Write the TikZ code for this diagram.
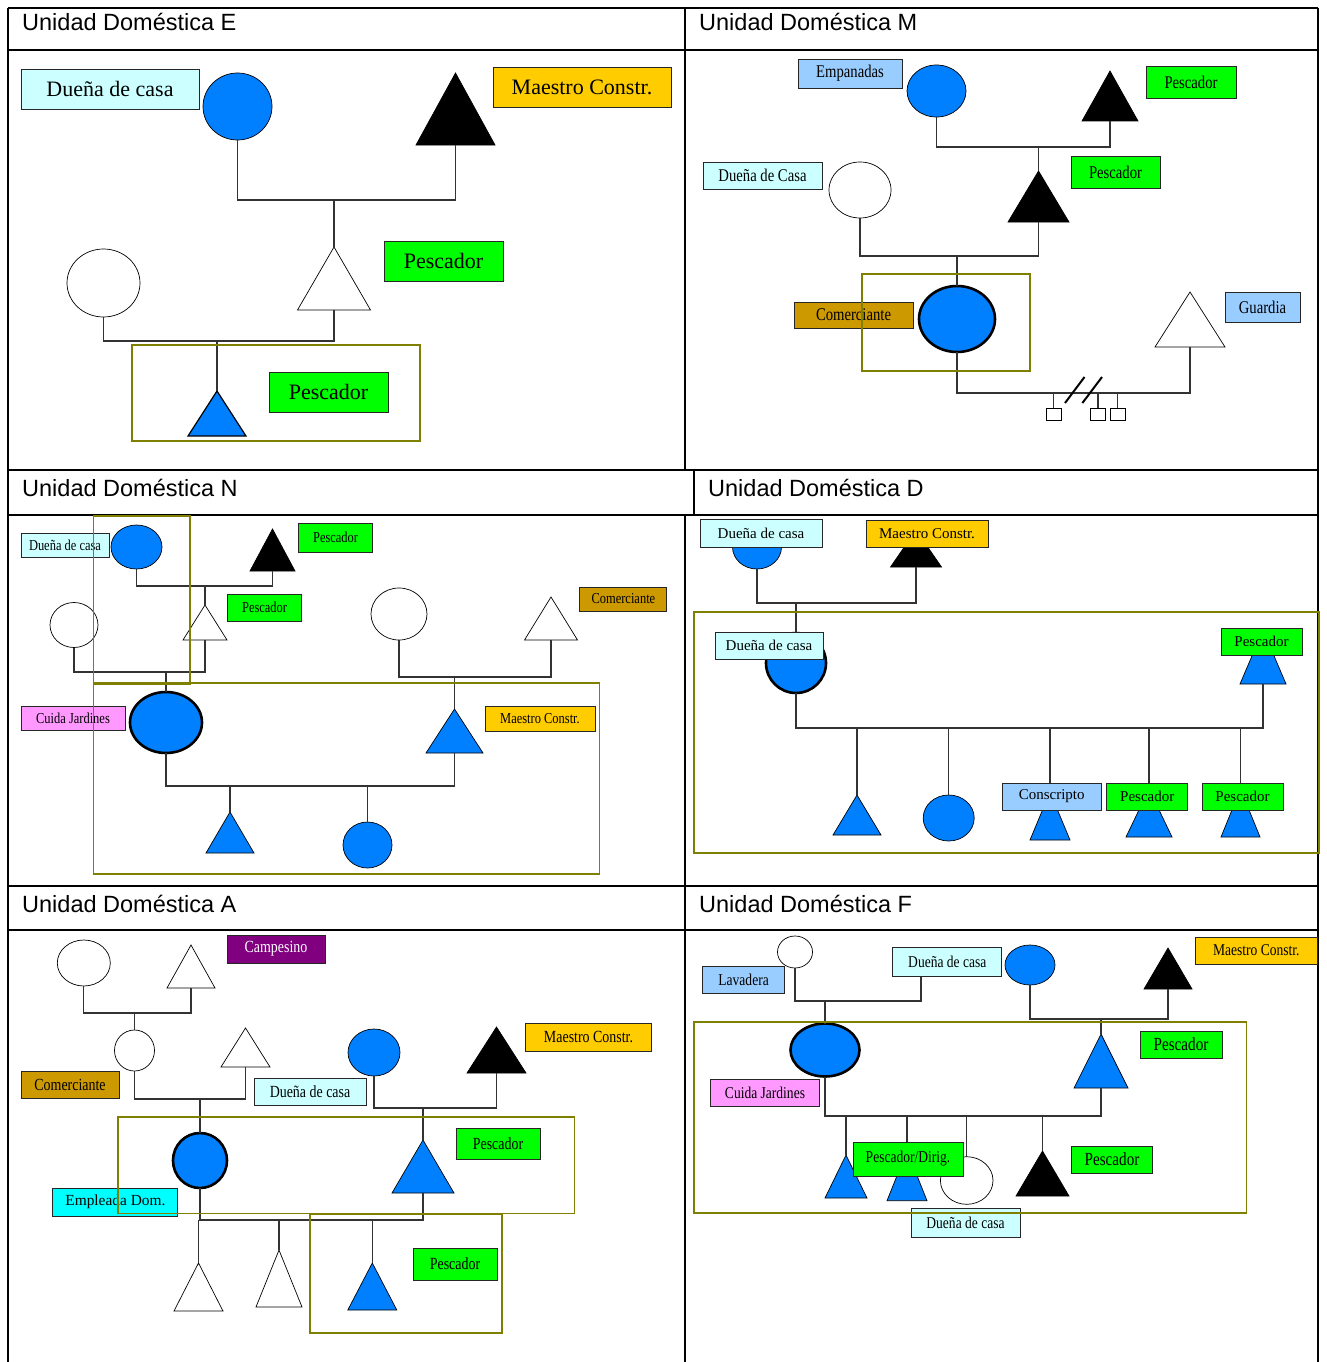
\documentclass[tikz,border=0pt]{standalone}
\usepackage{fontspec}
\setmainfont{Liberation Serif}
\newfontfamily\ttlfont{Liberation Sans}
\newfontfamily\narrowfont[FakeStretch=0.82]{Liberation Serif}
\usetikzlibrary{shapes.geometric, positioning}
\definecolor{cBlue}{RGB}{0,128,255}
\definecolor{cDuena}{RGB}{204,255,255}
\definecolor{cMaestro}{RGB}{255,204,0}
\definecolor{cPesca}{RGB}{0,255,0}
\definecolor{cCeleste}{RGB}{153,204,255}
\definecolor{cComer}{RGB}{204,153,0}
\definecolor{cJardin}{RGB}{255,153,255}
\definecolor{cCampo}{RGB}{128,0,128}
\definecolor{cEmpleada}{RGB}{0,255,255}
\definecolor{cGrupo}{RGB}{128,128,0}
\tikzset{
  lbl/.style={rectangle, draw=black!85, line width=0.9pt, inner sep=0pt, fill=#1},
  sz/.style 2 args={minimum width=#1, minimum height=#2},
  fem/.style={ellipse, draw=black, line width=0.7pt, inner sep=0pt, outer sep=0pt, fill=#1},
  masc/.style={isosceles triangle, isosceles triangle stretches, shape border rotate=90, anchor=lower side, draw=black, line width=0.7pt, inner sep=0pt, outer sep=0pt, fill=#1},
  ego/.style={line width=2.6pt},
  lin/.style={draw=black!80, line width=1.3pt},
  grp/.style={draw=cGrupo, line width=1.6pt},
  kid/.style={rectangle, draw=black, line width=0.8pt, fill=white, inner sep=0pt, minimum width=15, minimum height=12},
  tbl/.style={draw=black, line width=2pt},
  ttl/.style={font=\ttlfont\fontsize{23.5}{26}\selectfont, inner sep=0pt, anchor=base west}
}
\begin{document}
\begin{tikzpicture}[x=1pt, y=-1pt]
    \useasboundingbox (0,0) rectangle (1327,1362);
    \fill[white] (0,0) rectangle (1327,1362);

    % Table frame
    \foreach \y in {8,50,470,515,886,930}
        \draw[tbl] (8,\y) -- (1318,\y);
    \draw[tbl] (8,8) -- (8,1362);
    \draw[tbl] (1318,8) -- (1318,1362);
    \draw[tbl] (685,8) -- (685,470);
    \draw[tbl] (694,470) -- (694,515);
    \draw[tbl] (685,515) -- (685,1362);

    % Titles
    \node[ttl] (tE) at (22,31) {Unidad Doméstica E};
    \node[ttl] (tM) at (699,31) {Unidad Doméstica M};
    \node[ttl] (tN) at (22,496) {Unidad Doméstica N};
    \node[ttl] (tD) at (708,496) {Unidad Doméstica D};
    \node[ttl] (tA) at (22,912) {Unidad Doméstica A};
    \node[ttl] (tF) at (699,912) {Unidad Doméstica F};

    % ---------------- Unidad E ----------------
    \begin{scope}[font=\fontsize{22}{24}\selectfont]
        \node[fem=cBlue, sz={69}{67}] (eW1) at (237.5,106.5) {};
        \node[masc=black, sz={79}{72}] (eH1) at (455.5,145) {};
        \node[masc=white, sz={73}{63}] (eS1) at (334,310) {};
        \node[fem=white, sz={73}{68}] (eW2) at (103.5,283) {};
        \node[masc=cBlue, sz={58}{45}, line width=1.2pt] (eC1) at (217,436) {};
        \coordinate (eJ1) at (334,200);
        \coordinate (eJ2) at (217,341);
        \draw[lin] (eW1.south) |- (eJ1) -| (eH1.lower side);
        \draw[lin] (eJ1) -- (eS1.apex);
        \draw[lin] (eW2.south) |- (eJ2) -| (eS1.lower side);
        \draw[lin] (eJ2) -- (eC1.apex);
        \node[lbl=cDuena, sz={178}{40}] (eL1) at (110,89) {Dueña de casa};
        \node[lbl=cMaestro, sz={178}{40}] (eL2) at (582,87) {Maestro Constr.};
        \node[lbl=cPesca, sz={119}{40}] (eL3) at (443.5,261) {Pescador};
        \node[lbl=cPesca, sz={119}{40}] (eL4) at (328.5,392) {Pescador};
        \draw[grp] (132,345) rectangle (420,441);
    \end{scope}

    % ---------------- Unidad M ----------------
    \begin{scope}[font=\narrowfont\fontsize{17.9}{19}\selectfont]
        \node[fem=cBlue, sz={59}{52}] (mW1) at (936.5,91) {};
        \node[masc=black, sz={56}{50}] (mH1) at (1110,121) {};
        \node[masc=black, sz={61}{51}] (mS1) at (1038.5,222) {};
        \node[fem=white, sz={62}{56}] (mW2) at (860,190) {};
        \node[fem=cBlue, ego, sz={76}{66}] (mE1) at (957,319) {};
        \node[masc=white, sz={70}{55}] (mH2) at (1190,347) {};
        \node[kid] (mK1) at (1053.5,414) {};
        \node[kid] (mK2) at (1098,414) {};
        \node[kid] (mK3) at (1117.5,414) {};
        \coordinate (mJ1) at (1038.5,147);
        \coordinate (mJ2) at (957,256);
        \coordinate (mJ3) at (957,393);
        \draw[lin] (mW1.south) |- (mJ1) -| (mH1.lower side);
        \draw[lin] (mJ1) -- (mS1.apex);
        \draw[lin] (mW2.south) |- (mJ2) -| (mS1.lower side);
        \draw[lin] (mJ2) -- (mE1.north);
        \draw[lin] (mE1.south) -- (mJ3) -| (mH2.lower side);
        \foreach \k in {mK1,mK2,mK3}
            \draw[lin] (\k.north) -- (\k.north |- mJ3);
        % separation marks
        \draw[line width=2pt] (1065,403) -- (1084.5,377) (1082.4,403) -- (1102,377);
        \node[lbl=cCeleste, sz={104}{29}] (mL1) at (850,73.5) {Empanadas};
        \node[lbl=cPesca, sz={90}{32}] (mL2) at (1191,82) {Pescador};
        \node[lbl=cPesca, sz={89}{32}] (mL3) at (1115.5,172) {Pescador};
        \node[lbl=cDuena, sz={119}{27}] (mL4) at (762.5,175.5) {Dueña de Casa};
        \node[lbl=cComer, sz={119}{26}] (mL5) at (853.5,315) {Comerciante};
        \node[lbl=cCeleste, sz={75}{30}] (mL6) at (1262.5,307) {Guardia};
        \draw[grp] (862,274) rectangle (1030,371);
    \end{scope}

    % ---------------- Unidad N ----------------
    \begin{scope}[font=\narrowfont\fontsize{15.2}{17}\selectfont]
        \node[fem=cBlue, sz={51}{44}] (nW1) at (136.5,547) {};
        \node[masc=black, sz={45}{42}] (nH1) at (272.5,571) {};
        \node[masc=white, sz={44}{35}] (nS1) at (205,640) {};
        \node[fem=white, sz={48}{45}] (nW2) at (74,625) {};
        \node[fem=cBlue, ego, sz={72}{61}] (nE1) at (166,722.5) {};
        \node[fem=white, sz={56}{52}] (nW3) at (399,614) {};
        \node[masc=white, sz={53}{43}] (nH2) at (551,640) {};
        \node[masc=cBlue, sz={57}{44}] (nS2) at (454.5,753) {};
        \node[masc=cBlue, sz={48}{41}] (nC1) at (230,853) {};
        \node[fem=cBlue, sz={49}{46}] (nC2) at (367.5,845) {};
        \coordinate (nJ1) at (205,586);
        \coordinate (nJ2) at (166,672);
        \coordinate (nJ3) at (454.5,677);
        \coordinate (nJ4) at (300,786);
        \draw[lin] (nW1.south) |- (nJ1) -| (nH1.lower side);
        \draw[lin] (nJ1) -- (nS1.apex);
        \draw[lin] (nW2.south) |- (nJ2) -| (nS1.lower side);
        \draw[lin] (nJ2) -- (nE1.north);
        \draw[lin] (nW3.south) |- (nJ3) -| (nH2.lower side);
        \draw[lin] (nJ3) -- (nS2.apex);
        \draw[lin] (nE1.south) |- (nJ4) -| (nS2.lower side);
        \foreach \k/\a in {nC1/apex, nC2/north}
            \draw[lin] (\k.\a) -- (\k.\a |- nJ4);
        \node[lbl=cDuena, sz={88}{24}] (nL1) at (65,545) {Dueña de casa};
        \node[lbl=cPesca, sz={74}{29}] (nL2) at (335.6,537.5) {Pescador};
        \node[lbl=cPesca, sz={74}{27}] (nL3) at (264.6,607.5) {Pescador};
        \node[lbl=cComer, sz={87}{24}] (nL4) at (623.4,599) {Comerciante};
        \node[lbl=cMaestro, sz={110}{25}] (nL5) at (540,718.5) {Maestro Constr.};
        \node[lbl=cJardin, sz={104}{24}] (nL6) at (73,718) {Cuida Jardines};
        \draw[grp] (93.5,516) rectangle (190,684);
        \draw[grp] (93.5,683) rectangle (599.4,874);
    \end{scope}

    % ---------------- Unidad D ----------------
    \begin{scope}[font=\fontsize{15}{17}\selectfont]
        \node[fem=cBlue, sz={49}{44}] (dW1) at (757,547) {};
        \node[masc=black, sz={51}{37}] (dH1) at (916,567) {};
        \node[fem=cBlue, ego, sz={60}{60}] (dE1) at (796,663) {};
        \node[masc=cBlue, sz={46}{54}] (dS1) at (1263,684) {};
        \node[masc=cBlue, sz={48}{40}] (dC1) at (857,835) {};
        \node[fem=cBlue, sz={51}{46}] (dC2) at (948.7,818) {};
        \node[masc=cBlue, sz={40}{48}] (dC3) at (1050,840) {};
        \node[masc=cBlue, sz={46}{48}] (dC4) at (1149,837) {};
        \node[masc=cBlue, sz={39}{48}] (dC5) at (1240.5,837) {};
        \coordinate (dJ1) at (796,603);
        \coordinate (dJ2) at (1000,728);
        \draw[lin] (dW1.south) |- (dJ1) -| (dH1.lower side);
        \draw[lin] (dJ1) -- (dE1.north);
        \draw[lin] (dE1.south) |- (dJ2) -| (dS1.lower side);
        \foreach \k/\a in {dC1/apex, dC2/north, dC3/apex, dC4/apex, dC5/apex}
            \draw[lin] (\k.\a) -- (\k.\a |- dJ2);
        \node[lbl=cDuena, sz={122}{28}] (dL1) at (761,533) {Dueña de casa};
        \node[lbl=cMaestro, sz={122}{27}] (dL2) at (927,533.5) {Maestro Constr.};
        \node[lbl=cDuena, sz={108}{27}] (dL3) at (769,645.5) {Dueña de casa};
        \node[lbl=cPesca, sz={81}{27}] (dL4) at (1261.5,641.5) {Pescador};
        \node[lbl=cCeleste, sz={99.5}{27}] (dL5) at (1051.7,796.5) {Conscripto};
        \node[lbl=cPesca, sz={81}{27}] (dL6) at (1147.3,796.5) {Pescador};
        \node[lbl=cPesca, sz={81}{27}] (dL7) at (1242.5,796.5) {Pescador};
        \draw[grp] (694,612) rectangle (1319,853);
    \end{scope}

    % ---------------- Unidad A ----------------
    \begin{scope}[font=\narrowfont\fontsize{17}{19}\selectfont]
        \node[fem=white, sz={53}{46}] (aW1) at (83.8,963) {};
        \node[masc=white, sz={48}{43}] (aH1) at (191,988) {};
        \node[fem=white, sz={40}{41}] (aW2) at (134.5,1050.5) {};
        \node[masc=white, sz={49}{39}] (aH2) at (245.5,1067) {};
        \node[fem=cBlue, sz={52}{47}] (aW3) at (374,1052.5) {};
        \node[masc=black, sz={59}{46}] (aH3) at (496.5,1073) {};
        \node[fem=cBlue, ego, sz={54}{55}] (aE1) at (200,1160.5) {};
        \node[masc=cBlue, sz={62}{53}] (aS1) at (423,1193) {};
        \node[masc=white, sz={49}{48}] (aC1) at (198.5,1311) {};
        \node[masc=white, sz={46}{57}] (aC2) at (279,1307) {};
        \node[masc=cBlue, sz={49}{47}] (aC3) at (372.3,1310) {};
        \coordinate (aJ1) at (134.5,1013);
        \coordinate (aJ2) at (200,1099);
        \coordinate (aJ3) at (423,1108);
        \coordinate (aJ4) at (300,1220);
        \draw[lin] (aW1.south) |- (aJ1) -| (aH1.lower side);
        \draw[lin] (aJ1) -- (aW2.north);
        \draw[lin] (aW2.south) |- (aJ2) -| (aH2.lower side);
        \draw[lin] (aJ2) -- (aE1.north);
        \draw[lin] (aW3.south) |- (aJ3) -| (aH3.lower side);
        \draw[lin] (aJ3) -- (aS1.apex);
        \draw[lin] (aE1.south) |- (aJ4) -| (aS1.lower side);
        \foreach \k in {aC1,aC2,aC3}
            \draw[lin] (\k.apex) -- (\k.apex |- aJ4);
        \node[lbl=cCampo, sz={98}{28}, text=white] (aL1) at (276,949) {Campesino};
        \node[lbl=cComer, sz={98}{27}] (aL2) at (70,1084.5) {Comerciante};
        \node[lbl=cDuena, sz={112}{27}] (aL3) at (310,1091.5) {Dueña de casa};
        \node[lbl=cMaestro, sz={126}{28}] (aL4) at (588.5,1037) {Maestro Constr.};
        \node[lbl=cPesca, sz={84}{31}] (aL5) at (498,1143.5) {Pescador};
        \node[lbl=cEmpleada, sz={125}{28}, font=\fontsize{15.4}{17}\selectfont] (aL6) at (115.4,1202) {Empleada Dom.};
        \node[lbl=cPesca, sz={84}{32}] (aL7) at (455,1264) {Pescador};
        \draw[grp] (118,1117) rectangle (574.6,1213.3);
        \draw[grp] (309.8,1214) rectangle (502,1333);
    \end{scope}

    % ---------------- Unidad F ----------------
    \begin{scope}[font=\narrowfont\fontsize{16.5}{18}\selectfont]
        \node[fem=white, sz={35}{32}] (fW1) at (795,952) {};
        \node[fem=cBlue, sz={50}{40}] (fW2) at (1030,965) {};
        \node[masc=black, sz={48}{41}] (fH1) at (1168,989) {};
        \node[fem=cBlue, ego, sz={69}{53}] (fE1) at (825,1050) {};
        \node[masc=cBlue, sz={54}{54}] (fS1) at (1101,1088) {};
        \node[masc=cBlue, sz={42}{43}] (fC1) at (846,1198) {};
        \node[masc=cBlue, sz={40}{50}] (fC2) at (907,1200.7) {};
        \node[fem=white, sz={52.6}{47.6}] (fC3) at (966.7,1180.5) {};
        \node[masc=black, sz={53}{45}] (fC4) at (1042.5,1196) {};
        \coordinate (fP1) at (921,977);
        \coordinate (fJ1) at (825,1001);
        \coordinate (fJ2) at (1101,1019);
        \coordinate (fJ3) at (950,1116);
        \draw[lin] (fW1.south) |- (fJ1) -| (fP1);
        \draw[lin] (fJ1) -- (fE1.north);
        \draw[lin] (fW2.south) |- (fJ2) -| (fH1.lower side);
        \draw[lin] (fJ2) -- (fS1.apex);
        \draw[lin] (fE1.south) |- (fJ3) -| (fS1.lower side);
        \foreach \k/\a in {fC1/apex, fC2/apex, fC3/north, fC4/apex}
            \draw[lin] (\k.\a) -- (\k.\a |- fJ3);
        \node[lbl=cCeleste, sz={82}{27}] (fL1) at (743.6,979.5) {Lavadera};
        \node[lbl=cDuena, sz={109}{29}] (fL2) at (947.3,962.3) {Dueña de casa};
        \node[lbl=cMaestro, sz={122.6}{27}] (fL3) at (1256.3,950.5) {Maestro Constr.};
        \node[lbl=cPesca, sz={82}{27}, font=\narrowfont\fontsize{18.5}{20}\selectfont] (fL4) at (1181,1044.5) {Pescador};
        \node[lbl=cJardin, sz={109}{27}] (fL5) at (765,1092.5) {Cuida Jardines};
        \node[lbl=cPesca, sz={110}{34}] (fL6) at (908,1159) {Pescador/Dirig.};
        \node[lbl=cPesca, sz={81.5}{27}, font=\narrowfont\fontsize{18.5}{20}\selectfont] (fL7) at (1112,1159.5) {Pescador};
        \node[lbl=cDuena, sz={109}{29}] (fL8) at (965.5,1222.5) {Dueña de casa};
        \draw[grp] (694,1022) rectangle (1246.6,1213);
    \end{scope}
\end{tikzpicture}
\end{document}
